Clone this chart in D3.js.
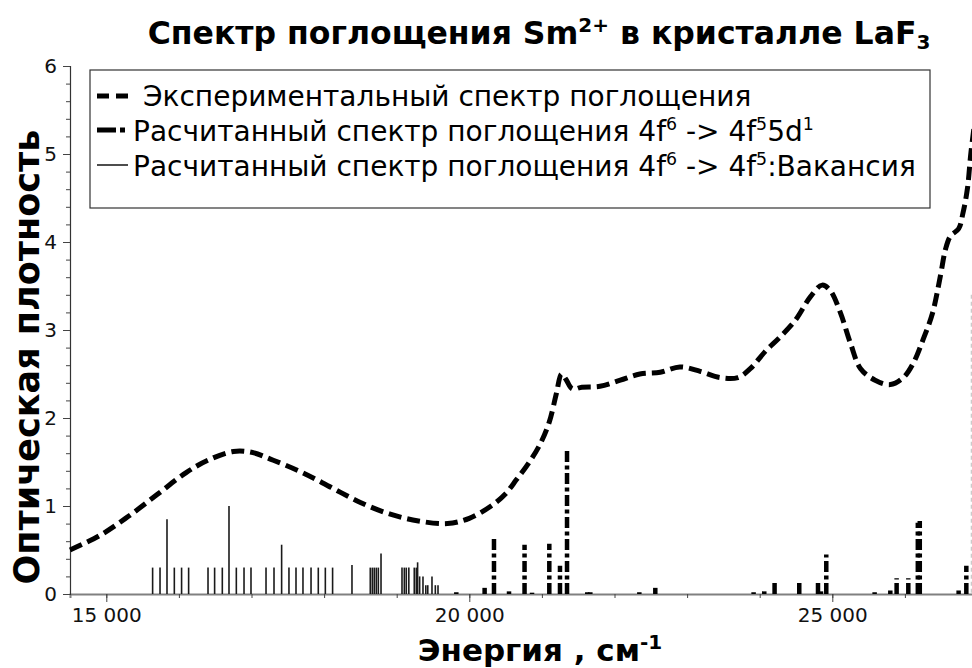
<!DOCTYPE html>
<html>
<head>
<meta charset="utf-8">
<script src="https://cdn.jsdelivr.net/npm/d3@7"></script>
<style>
  html, body { margin: 0; padding: 0; background: #fff; }
  svg { display: block; font-family: "DejaVu Sans", sans-serif; }
</style>
</head>
<body>
<svg id="chart" width="972" height="668"></svg>
<script>
// Experimental absorption spectrum: energy (cm^-1) and optical density
const expEnergy = [14500, 14900, 15300, 15700, 16100, 16400, 16750, 17000, 17300, 17700,
  18100, 18500, 18900, 19300, 19700, 20000, 20300, 20500, 20650, 20820,
  20980, 21100, 21200, 21270, 21330, 21420, 21550, 21800, 22080, 22350,
  22630, 22900, 23180, 23450, 23700, 23870, 24080, 24280, 24490, 24700,
  24860, 24970, 25110, 25250, 25390, 25590, 25800, 25980, 26120, 26250,
  26380, 26490, 26560, 26630, 26740, 26800, 26860, 26910, 26960];
const expDensity = [0.50, 0.66, 0.88, 1.13, 1.38, 1.52, 1.62, 1.61, 1.52, 1.38,
  1.21, 1.04, 0.91, 0.83, 0.80, 0.86, 1.00, 1.14, 1.30, 1.49,
  1.71, 1.95, 2.28, 2.50, 2.44, 2.33, 2.35, 2.36, 2.43, 2.50,
  2.52, 2.58, 2.53, 2.46, 2.46, 2.56, 2.76, 2.92, 3.11, 3.38,
  3.51, 3.45, 3.20, 2.85, 2.56, 2.43, 2.38, 2.46, 2.63, 2.89,
  3.19, 3.62, 3.92, 4.07, 4.15, 4.33, 4.60, 5.02, 5.35];

// Calculated lines 4f6 -> 4f5:vacancy
const vacEnergy = [15638, 15740, 15836, 15937, 16037, 16134, 16401, 16492, 16598, 16690,
  16791, 16897, 16993, 17200, 17310, 17415, 17516, 17613, 17709, 17820,
  17920, 18017, 18117, 18384, 18636, 18664, 18691, 18719, 18747, 18784,
  19073, 19105, 19132, 19167, 19242, 19270, 19288, 19316, 19362, 19401,
  19428, 19486, 19532, 19569];
const vacDensity = [0.30, 0.30, 0.85, 0.30, 0.30, 0.30, 0.30, 0.30, 0.30, 1.00,
  0.30, 0.30, 0.30, 0.30, 0.30, 0.56, 0.30, 0.30, 0.30, 0.30,
  0.30, 0.30, 0.30, 0.33, 0.30, 0.30, 0.30, 0.30, 0.30, 0.46,
  0.30, 0.30, 0.30, 0.30, 0.30, 0.30, 0.36, 0.20, 0.20, 0.10,
  0.10, 0.20, 0.10, 0.10];

// Calculated lines 4f6 -> 4f5 5d1
const fdEnergy = [19821, 20211, 20340, 20547, 20761, 20864, 21102, 21249, 21346, 21625,
  21667, 22342, 22562, 23916, 24063, 24205, 24545, 24803, 24844, 24917,
  25583, 25799, 25886, 26047, 26178, 26205, 26740, 26846];
const fdDensity = [0.02, 0.07, 0.63, 0.03, 0.56, 0.015, 0.57, 0.32, 1.64, 0.02,
  0.02, 0.02, 0.07, 0.02, 0.03, 0.13, 0.13, 0.13, 0.03, 0.45,
  0.02, 0.04, 0.18, 0.18, 0.81, 0.83, 0.04, 0.32];

// Axis ticks
const xMajorTicks = [15000, 20000, 25000];
const xMinorTicks = [15000, 16000, 17000, 18000, 19000, 20000, 21000, 22000, 23000, 24000, 25000, 26000, 27000];
const yMajorTicks = [0, 1, 2, 3, 4, 5, 6];
const yMinorTicks = d3.range(0, 31).map(i => i / 5);

// Faint reference marker at the right end of the range
const refEnergy = [26915];
const refTop = [3.4];

const svg = d3.select("#chart");
const x = d3.scaleLinear().domain([14500, 27000]).range([70, 977.5]);
const y = d3.scaleLinear().domain([0, 6]).range([594, 66]);

// Reference marker
svg.selectAll(".ref").data(refEnergy).join("line")
  .attr("x1", d => x(d)).attr("x2", d => x(d))
  .attr("y1", (d, i) => y(refTop[i])).attr("y2", y(0))
  .attr("stroke", "#c8c8c8").attr("stroke-width", 1.2).attr("stroke-dasharray", "4,3");

// Axes
const fmt = d => d3.format(",")(d).replace(",", " ");
const xAxisMinor = d3.axisBottom(x).tickValues(xMinorTicks).tickSize(4).tickFormat("");
const xAxisMajor = d3.axisBottom(x).tickValues(xMajorTicks).tickSize(8).tickPadding(6).tickFormat(fmt);
const yAxisMinor = d3.axisLeft(y).tickValues(yMinorTicks).tickSize(4).tickFormat("");
const yAxisMajor = d3.axisLeft(y).tickValues(yMajorTicks).tickSize(7).tickPadding(6).tickFormat(d3.format("d"));

function styleAxis(g, domainColor, domainWidth) {
  g.select(".domain").attr("stroke", domainColor).attr("stroke-width", domainWidth);
  g.selectAll(".tick line").attr("stroke", "#444").attr("stroke-width", 1);
  g.selectAll(".tick text").attr("font-family", "DejaVu Sans").attr("font-size", 20).attr("fill", "#111");
}
svg.append("g").attr("transform", `translate(0,${y(0)})`).call(xAxisMinor).call(g => { styleAxis(g, "#808080", 2); });
svg.append("g").attr("transform", `translate(0,${y(0)})`).call(xAxisMajor).call(g => { styleAxis(g, "none", 0); });
svg.append("g").attr("transform", `translate(${x(14500)},0)`).call(yAxisMinor).call(g => { styleAxis(g, "#333", 1.2); });
svg.append("g").attr("transform", `translate(${x(14500)},0)`).call(yAxisMajor).call(g => { styleAxis(g, "none", 0); });

// Vacancy lines (thin)
svg.append("g").selectAll("line").data(vacEnergy).join("line")
  .attr("x1", d => x(d)).attr("x2", d => x(d))
  .attr("y1", y(0)).attr("y2", (d, i) => y(vacDensity[i]))
  .attr("stroke", "#1a1a1a").attr("stroke-width", 1.6);

// 4f5 5d1 lines (thick dash-dot)
svg.append("g").selectAll("line").data(fdEnergy).join("line")
  .attr("x1", d => x(d)).attr("x2", d => x(d))
  .attr("y1", y(0)).attr("y2", (d, i) => y(fdDensity[i]))
  .attr("stroke", "#000").attr("stroke-width", 4.5).attr("stroke-dasharray", "11,3.5,4,3.5");

// Experimental spectrum (thick dashed)
const expLine = d3.line().x(d => x(d[0])).y(d => y(d[1])).curve(d3.curveCatmullRom.alpha(0.5));
svg.append("path").datum(expEnergy.map((e, i) => [e, expDensity[i]]))
  .attr("d", expLine).attr("fill", "none").attr("stroke", "#000")
  .attr("stroke-width", 5).attr("stroke-dasharray", "13,6");

// Legend
const lg = svg.append("g");
lg.append("rect").attr("x", 90).attr("y", 70).attr("width", 840).attr("height", 138)
  .attr("fill", "#fff").attr("stroke", "#333").attr("stroke-width", 1.2);
lg.append("line").attr("x1", 97).attr("x2", 129).attr("y1", 96).attr("y2", 96)
  .attr("stroke", "#000").attr("stroke-width", 5).attr("stroke-dasharray", "12,7");
lg.append("line").attr("x1", 97).attr("x2", 127).attr("y1", 130).attr("y2", 130)
  .attr("stroke", "#000").attr("stroke-width", 5).attr("stroke-dasharray", "19,4,5,4");
lg.append("line").attr("x1", 97).attr("x2", 128).attr("y1", 165).attr("y2", 165)
  .attr("stroke", "#000").attr("stroke-width", 1.4);

const legendFont = 28;
lg.append("text").attr("x", 143).attr("y", 106).attr("font-size", legendFont)
  .text("Экспериментальный спектр поглощения");

// Legend entry with superscript pieces; each run after a superscript restores the baseline
function legendEntry(x0, y0, parts) {
  const el = lg.append("text").attr("x", x0).attr("y", y0).attr("font-size", legendFont);
  let raised = false;
  parts.forEach(p => {
    const ts = el.append("tspan").text(p.t);
    if (p.sup) {
      ts.attr("dy", raised ? 0 : -11).attr("font-size", legendFont * 0.62);
      raised = true;
    } else if (raised) {
      ts.attr("dy", 11);
      raised = false;
    }
  });
  return el;
}
legendEntry(133, 141, [
  { t: "Расчитанный спектр поглощения 4f" }, { t: "6", sup: true },
  { t: " -> 4f" }, { t: "5", sup: true }, { t: "5d" }, { t: "1", sup: true }]);
legendEntry(133, 176, [
  { t: "Расчитанный спектр поглощения 4f" }, { t: "6", sup: true },
  { t: " -> 4f" }, { t: "5", sup: true }, { t: ":Вакансия" }]);

// Title
const title = svg.append("text").attr("x", 539).attr("y", 44).attr("text-anchor", "middle")
  .attr("font-size", 31.5).attr("font-weight", "bold");
title.append("tspan").text("Спектр поглощения Sm");
title.append("tspan").attr("dy", -12).attr("font-size", 20).text("2+");
title.append("tspan").attr("dy", 12).text(" в кристалле LaF");
title.append("tspan").attr("dy", 5).attr("font-size", 20).text("3");

// Axis titles
svg.append("text").attr("transform", "translate(39,357) rotate(-90)").attr("text-anchor", "middle")
  .attr("font-size", 35).attr("font-weight", "bold").text("Оптическая плотность");
const xt = svg.append("text").attr("x", 540).attr("y", 661).attr("text-anchor", "middle")
  .attr("font-size", 31).attr("font-weight", "bold");
xt.append("tspan").text("Энергия , см");
xt.append("tspan").attr("dy", -12).attr("font-size", 20).text("-1");
</script>
</body>
</html>
